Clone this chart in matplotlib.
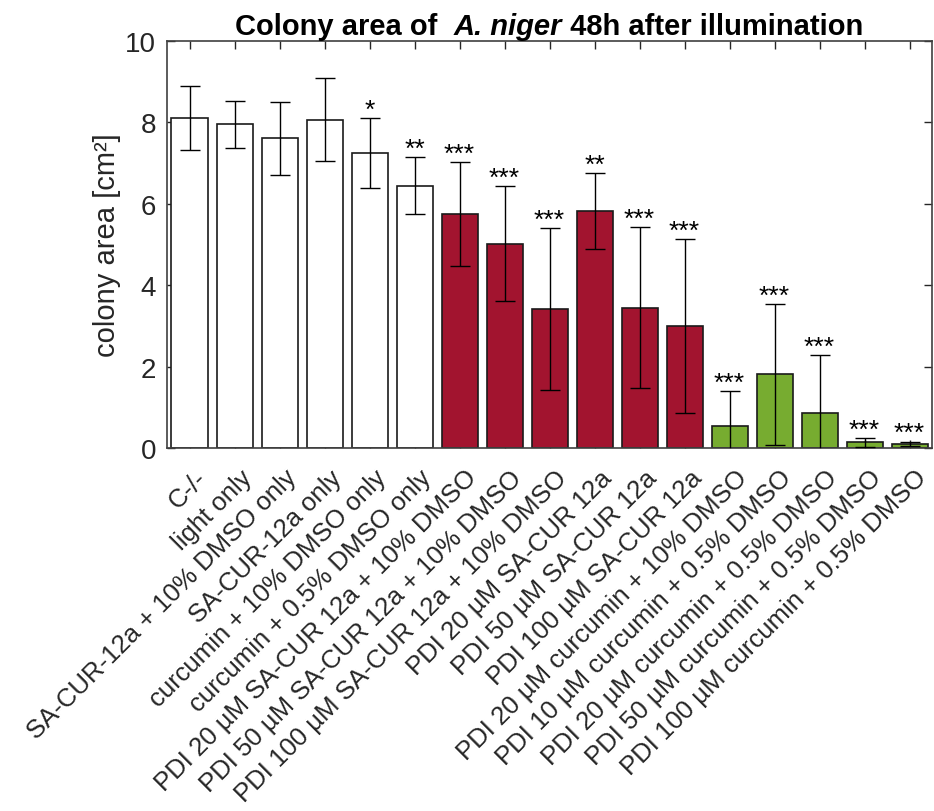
import matplotlib

matplotlib.use("Agg")
import matplotlib.pyplot as plt
import matplotlib.transforms as mtransforms
import numpy as np

plt.rcParams["font.family"] = ["Liberation Sans", "DejaVu Sans"]

labels = [
    "C-/-",
    "light only",
    "SA-CUR-12a + 10% DMSO only",
    "SA-CUR-12a only",
    "curcumin + 10% DMSO only",
    "curcumin + 0.5% DMSO only",
    "PDI 20 µM SA-CUR 12a + 10% DMSO",
    "PDI 50 µM SA-CUR 12a + 10% DMSO",
    "PDI 100 µM SA-CUR 12a + 10% DMSO",
    "PDI 20 µM SA-CUR 12a",
    "PDI 50 µM SA-CUR 12a",
    "PDI 100 µM SA-CUR 12a",
    "PDI 20 µM curcumin + 10% DMSO",
    "PDI 10 µM curcumin + 0.5% DMSO",
    "PDI 20 µM curcumin + 0.5% DMSO",
    "PDI 50 µM curcumin + 0.5% DMSO",
    "PDI 100 µM curcumin + 0.5% DMSO",
]
area_mean = [8.10, 7.95, 7.61, 8.07, 7.25, 6.44, 5.74, 5.02, 3.42,
             5.82, 3.45, 3.00, 0.54, 1.81, 0.86, 0.14, 0.10]
area_sd = [0.79, 0.57, 0.90, 1.02, 0.86, 0.70, 1.28, 1.41, 1.99,
           0.94, 1.97, 2.14, 0.86, 1.73, 1.42, 0.11, 0.06]
significance = ["", "", "", "", "*", "**", "***", "***", "***",
                "**", "***", "***", "***", "***", "***", "***", "***"]
group = ["control"] * 6 + ["SA-CUR 12a"] * 6 + ["curcumin"] * 5

group_colors = {"control": "white", "SA-CUR 12a": "#A2142F", "curcumin": "#77AC30"}
ink = "#262626"

fig = plt.figure(figsize=(9.34, 8.12), dpi=100)
ax = fig.add_axes([0.1788, 0.4470, 0.8191, 0.5013])

x = np.arange(1, len(labels) + 1)
ax.bar(x, area_mean, width=0.8, color=[group_colors[g] for g in group],
       edgecolor="#1a1a1a", linewidth=1.2, zorder=2)
ax.errorbar(x, area_mean, yerr=area_sd, fmt="none", ecolor="black",
            elinewidth=1.0, capsize=7.5, capthick=1.0, zorder=3)

for xi, m, s, sig in zip(x, area_mean, area_sd, significance):
    if sig:
        ax.text(xi, m + s + 0.03, sig, ha="center", va="baseline",
                fontsize=19, color="black", zorder=4)

ax.set_xlim(0.5, 17.5)
ax.set_ylim(0, 10)
ax.set_yticks([0, 2, 4, 6, 8, 10])
ax.set_xticks(x)
ax.set_xticklabels(labels, rotation=45, ha="right", va="top",
                   rotation_mode="anchor", fontsize=18.5, color=ink)
ax.tick_params(axis="both", direction="in", top=True, right=True,
               length=6, width=1.0, color=ink, labelcolor=ink)
ax.tick_params(axis="y", labelsize=20, pad=8)
ax.tick_params(axis="x", pad=8)
# nudge the slanted labels a little down and to the right
nudge = mtransforms.ScaledTranslation(5 / 100, -6 / 100, fig.dpi_scale_trans)
for lbl in ax.get_xticklabels():
    lbl.set_transform(lbl.get_transform() + nudge)
for spine in ax.spines.values():
    spine.set_color("#404040")
    spine.set_linewidth(1.2)

ax.set_ylabel("colony area [cm²]", fontsize=21, color=ink, labelpad=3)

# title in three pieces so the species name can be italic
pieces = [("Colony area of  ", "normal"), ("A. niger", "italic"),
          (" 48h after illumination", "normal")]
title_texts = []
prev = None
for s, style in pieces:
    if prev is None:
        t = ax.text(0.0, 1.0, s, transform=ax.transAxes, ha="left", va="bottom",
                    fontsize=21, fontweight="bold", fontstyle=style, color="black")
    else:
        t = ax.annotate(s, xy=(1, 0), xycoords=prev, ha="left", va="bottom",
                        fontsize=21, fontweight="bold", fontstyle=style,
                        color="black")
    title_texts.append(t)
    prev = t

fig.canvas.draw()
r = fig.canvas.get_renderer()
x0 = title_texts[0].get_window_extent(r).x0
x1 = title_texts[-1].get_window_extent(r).x1
ax_bb = ax.get_window_extent(r)
width_frac = (x1 - x0) / ax_bb.width
title_texts[0].set_position((0.5 - width_frac / 2, 1.0 + 1 / ax_bb.height))

fig.savefig("out.png", dpi=100)
